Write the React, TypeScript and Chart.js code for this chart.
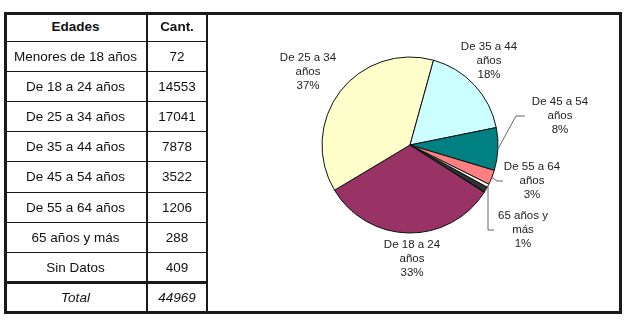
import React, { useEffect, useRef } from "react";
import { Chart, registerables } from "chart.js";

Chart.register(...registerables);

// ---- data ----
const headerLabels = ["Edades", "Cant."];
const ageGroups = [
  "Menores de 18 años",
  "De 18 a 24 años",
  "De 25 a 34 años",
  "De 35 a 44 años",
  "De 45 a 54 años",
  "De 55 a 64 años",
  "65 años y más",
  "Sin Datos",
];
const counts = [72, 14553, 17041, 7878, 3522, 1206, 288, 409];
const totalLabel = "Total";
const pieNameLines: string[][] = [
  [],
  ["De 18 a 24", "años"],
  ["De 25 a 34", "años"],
  ["De 35 a 44", "años"],
  ["De 45 a 54", "años"],
  ["De 55 a 64", "años"],
  ["65 años y", "más"],
  [],
];
const piePercents = ["", "33%", "37%", "18%", "8%", "3%", "1%", ""];

// ---- styles / layout ----
const sliceColors = ["#222222", "#993366", "#FFFFCC", "#CCFFFF", "#008080", "#FF8080", "#F4F4F4", "#333333"];
// label block centre (middle line) offset from pie centre, and whether it has a leader line
const labelLayout: ({ dx: number; dy: number; leader: boolean } | null)[] = [
  null,
  { dx: 2, dy: 114, leader: false },
  { dx: -102, dy: -73, leader: false },
  { dx: 79, dy: -84, leader: false },
  { dx: 150, dy: -29, leader: true },
  { dx: 122, dy: 36, leader: true },
  { dx: 113, dy: 85, leader: true },
  null,
];
const leaderElbow = [0, 0, 0, 0, 44, 35, 35, 0];
const leaderEnd = [0, 0, 0, 0, 35, 29, 29, 0];

const FONT = "'Liberation Sans', Arial, sans-serif";
const rowEdges = [12, 41, 71, 101, 131, 161, 192, 222, 252, 282, 313];
const colEdges = [4, 147, 207];

const labelPlugin = {
  id: "pieLabels",
  afterDraw(chart: any) {
    const ctx = chart.ctx;
    const meta = chart.getDatasetMeta(0);
    ctx.save();
    ctx.font = `11.5px ${FONT}`;
    ctx.fillStyle = "#222";
    ctx.textAlign = "center";
    ctx.textBaseline = "middle";
    meta.data.forEach((arc: any, i: number) => {
      const lay = labelLayout[i];
      if (!lay) return;
      const p = arc.getProps(["x", "y", "startAngle", "endAngle", "outerRadius"], true);
      const lx = p.x + lay.dx;
      const ly = p.y + lay.dy;
      const lines = [...pieNameLines[i], piePercents[i]];
      const lh = 14;
      lines.forEach((t, k) => {
        ctx.fillText(t, lx, ly + (k - 1) * lh);
      });
      if (lay.leader) {
        const mid = (p.startAngle + p.endAngle) / 2;
        const ex = p.x + Math.cos(mid) * p.outerRadius;
        const ey = p.y + Math.sin(mid) * p.outerRadius;
        ctx.strokeStyle = "#666";
        ctx.lineWidth = 1;
        ctx.beginPath();
        ctx.moveTo(ex, ey);
        const elx = i === 6 ? ex : lx - leaderElbow[i];
        ctx.lineTo(elx, ly);
        ctx.lineTo(lx - leaderEnd[i], ly);
        ctx.stroke();
      }
    });
    ctx.restore();
  },
};

function PieChart() {
  const ref = useRef<HTMLCanvasElement>(null);
  useEffect(() => {
    if (!ref.current) return;
    const chart = new Chart(ref.current, {
      type: "pie",
      data: {
        labels: ageGroups,
        datasets: [
          {
            data: counts,
            backgroundColor: sliceColors,
            borderColor: "#111",
            borderWidth: 1,
          },
        ],
      },
      options: {
        responsive: false,
        maintainAspectRatio: false,
        animation: false,
        rotation: 122,
        radius: 88,
        layout: { padding: { left: 0, right: 9, top: 0, bottom: 36 } },
        plugins: { legend: { display: false }, tooltip: { enabled: false } },
      },
      plugins: [labelPlugin],
    } as any);
    return () => chart.destroy();
  }, []);
  return (
    <canvas
      ref={ref}
      width={415}
      height={302}
      style={{ position: "absolute", left: 207, top: 12, width: 415, height: 302 }}
    />
  );
}

export default function App() {
  const total = counts.reduce((a, b) => a + b, 0);
  const rows: { a: string; b: string; kind: "head" | "body" | "total" }[] = [
    { a: headerLabels[0], b: headerLabels[1], kind: "head" },
    ...ageGroups.map((g, i) => ({ a: g, b: String(counts[i]), kind: "body" as const })),
    { a: totalLabel, b: String(total), kind: "total" },
  ];
  const lineColor = "#1a1a1a";
  return (
    <div
      style={{
        position: "absolute",
        left: 0,
        top: 0,
        width: 627,
        height: 324,
        background: "#fff",
        fontFamily: FONT,
        color: "#111",
        overflow: "hidden",
      }}
    >
      <PieChart />
      {rows.map((r, ri) => {
        const top = rowEdges[ri];
        const h = rowEdges[ri + 1] - top;
        const st: React.CSSProperties = {
          fontSize: 13.5,
          fontWeight: r.kind === "head" ? "bold" : "normal",
          fontStyle: r.kind === "total" ? "italic" : "normal",
        };
        return (
          <React.Fragment key={ri}>
            <div
              style={{
                position: "absolute",
                left: colEdges[0],
                top,
                width: colEdges[1] - colEdges[0],
                height: h,
                display: "flex",
                alignItems: "center",
                justifyContent: "center",
                ...st,
              }}
            >
              {r.a}
            </div>
            <div
              style={{
                position: "absolute",
                left: colEdges[1],
                top,
                width: colEdges[2] - colEdges[1],
                height: h,
                display: "flex",
                alignItems: "center",
                justifyContent: "center",
                ...st,
              }}
            >
              {r.b}
            </div>
          </React.Fragment>
        );
      })}
      {rowEdges.slice(1, rowEdges.length - 1).map((y, i) => {
        const thick = i === rowEdges.length - 3;
        return (
          <div
            key={"h" + i}
            style={{
              position: "absolute",
              left: 4,
              top: thick ? y - 1 : y - 0.5,
              width: 203,
              height: thick ? 3 : 1.5,
              background: lineColor,
            }}
          />
        );
      })}
      <div style={{ position: "absolute", left: 146, top: 12, width: 1.5, height: 302, background: lineColor }} />
      <div style={{ position: "absolute", left: 206, top: 12, width: 2, height: 302, background: lineColor }} />
      <div
        style={{
          position: "absolute",
          left: 4,
          top: 12,
          width: 618,
          height: 302,
          border: `3px solid ${lineColor}`,
          boxSizing: "border-box",
        }}
      />
    </div>
  );
}
